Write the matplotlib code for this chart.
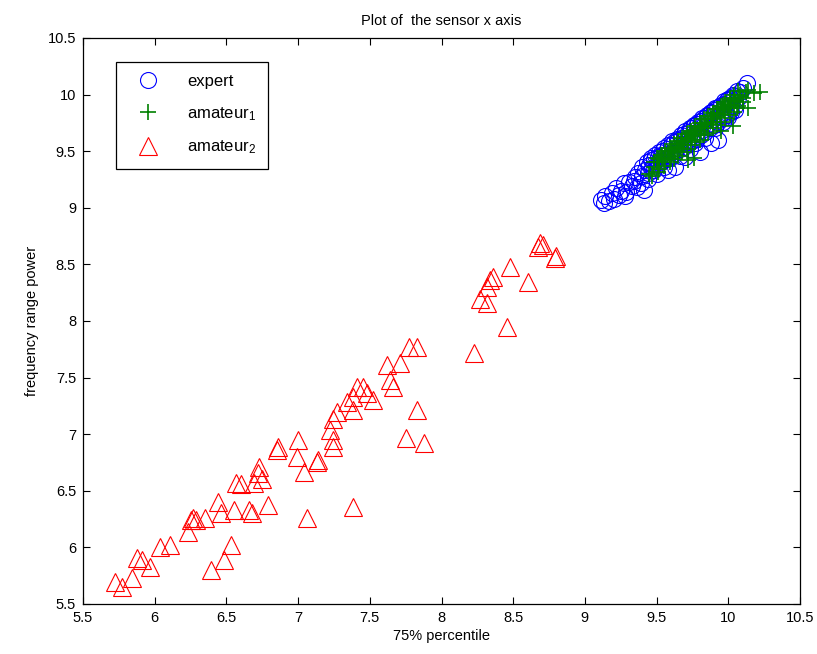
import matplotlib
matplotlib.use("Agg")
import matplotlib.pyplot as plt
from matplotlib.ticker import FormatStrFormatter, MultipleLocator

plt.rcParams['font.family'] = ['Liberation Sans', 'DejaVu Sans']
plt.rcParams['mathtext.fontset'] = 'custom'
plt.rcParams['mathtext.rm'] = 'Liberation Sans'
plt.rcParams['mathtext.it'] = 'Liberation Sans'

# expert recordings (75% percentile, frequency range power)
expert_x = [9.11, 9.14, 9.17, 9.19, 9.22, 9.24, 9.27, 9.28, 9.31, 9.33,
            9.35, 9.37, 9.39, 9.41, 9.42, 9.44, 9.45, 9.46, 9.47, 9.48,
            9.50, 9.51, 9.52, 9.53, 9.54, 9.55, 9.56, 9.57, 9.58, 9.59,
            9.60, 9.61, 9.62, 9.63, 9.64, 9.65, 9.66, 9.67, 9.68, 9.69,
            9.70, 9.71, 9.72, 9.73, 9.74, 9.75, 9.76, 9.77, 9.78, 9.79,
            9.80, 9.81, 9.82, 9.83, 9.84, 9.85, 9.86, 9.87, 9.88, 9.89,
            9.90, 9.91, 9.92, 9.93, 9.94, 9.95, 9.96, 9.97, 9.98, 9.99,
            10.00, 10.01, 10.02, 10.04, 10.05, 10.07, 10.08, 10.10, 10.13,
            9.40, 9.43, 9.46, 9.49, 9.52, 9.55, 9.58, 9.61, 9.64, 9.67,
            9.70, 9.73, 9.76, 9.79, 9.82, 9.85, 9.88, 9.91, 9.94, 9.97,
            10.00, 10.03, 10.06,
            9.44, 9.48, 9.51, 9.54, 9.57, 9.60, 9.63, 9.66, 9.69, 9.72,
            9.75, 9.78, 9.81, 9.84, 9.87, 9.90, 9.93, 9.96, 9.99, 10.02,
            10.05,
            9.13, 9.20, 9.25, 9.29, 9.34, 9.36, 9.40]
expert_y = [9.07, 9.10, 9.06, 9.13, 9.17, 9.11, 9.22, 9.10, 9.23, 9.19,
            9.27, 9.31, 9.22, 9.16, 9.33, 9.25, 9.38, 9.42, 9.35, 9.43,
            9.30, 9.45, 9.40, 9.47, 9.50, 9.36, 9.47, 9.52, 9.33, 9.44,
            9.55, 9.49, 9.58, 9.36, 9.53, 9.60, 9.46, 9.62, 9.56, 9.65,
            9.45, 9.59, 9.67, 9.52, 9.70, 9.63, 9.72, 9.57, 9.74, 9.68,
            9.49, 9.77, 9.71, 9.79, 9.62, 9.81, 9.74, 9.84, 9.57, 9.78,
            9.86, 9.70, 9.88, 9.60, 9.82, 9.91, 9.76, 9.92, 9.85, 9.95,
            9.80, 9.97, 9.90, 9.99, 9.86, 9.97, 10.02, 10.06, 10.10,
            9.36, 9.40, 9.44, 9.47, 9.49, 9.53, 9.55, 9.59, 9.61, 9.64,
            9.68, 9.70, 9.73, 9.76, 9.79, 9.82, 9.85, 9.88, 9.90, 9.94,
            9.96, 10.00, 10.03,
            9.31, 9.33, 9.38, 9.41, 9.43, 9.46, 9.48, 9.52, 9.54, 9.56,
            9.59, 9.61, 9.64, 9.67, 9.70, 9.73, 9.76, 9.79, 9.82, 9.85,
            9.90,
            9.04, 9.08, 9.15, 9.14, 9.24, 9.18, 9.28]

# first amateur
amateur1_x = [9.45, 9.48, 9.50, 9.52, 9.54, 9.56, 9.58, 9.60, 9.61, 9.63,
              9.64, 9.66, 9.67, 9.69, 9.70, 9.72, 9.72, 9.73, 9.75, 9.76,
              9.77, 9.78, 9.80, 9.81, 9.82, 9.84, 9.85, 9.86, 9.88, 9.89,
              9.90, 9.92, 9.93, 9.94, 9.95, 9.96, 9.97, 9.98, 10.00, 10.01,
              10.02, 10.03, 10.04, 10.05, 10.06, 10.08, 10.10, 10.12, 10.14,
              10.14, 10.18, 10.22,
              9.50, 9.53, 9.56, 9.59, 9.62, 9.65, 9.68, 9.71, 9.74, 9.77,
              9.80, 9.83, 9.86, 9.89, 9.92, 9.95, 9.98, 10.01, 10.04, 10.07,
              9.47, 9.51, 9.55, 9.59, 9.62, 9.65, 9.68, 9.71, 9.74, 9.77,
              9.80, 9.83, 9.86, 9.89, 9.92, 9.95, 9.98, 10.01, 10.04, 10.07,
              10.10,
              9.48, 9.52, 9.56, 9.60, 9.64, 9.68, 9.72, 9.76, 9.80, 9.84,
              9.88, 9.92, 9.96, 10.00, 10.04, 10.08]
amateur1_y = [9.30, 9.36, 9.40, 9.34, 9.45, 9.42, 9.48, 9.44, 9.52, 9.50,
              9.56, 9.53, 9.59, 9.55, 9.62, 9.42, 9.60, 9.66, 9.63, 9.44,
              9.69, 9.65, 9.72, 9.68, 9.75, 9.70, 9.78, 9.74, 9.81, 9.76,
              9.84, 9.80, 9.87, 9.83, 9.68, 9.89, 9.86, 9.92, 9.88, 9.95,
              9.91, 9.72, 9.97, 9.94, 9.88, 10.00, 9.97, 10.02, 10.04,
              9.88, 10.01, 10.02,
              9.44, 9.47, 9.50, 9.53, 9.56, 9.59, 9.62, 9.65, 9.68, 9.72,
              9.75, 9.78, 9.81, 9.84, 9.87, 9.90, 9.93, 9.97, 10.00, 10.03,
              9.28, 9.32, 9.37, 9.40, 9.43, 9.46, 9.49, 9.52, 9.55, 9.58,
              9.60, 9.64, 9.66, 9.70, 9.73, 9.76, 9.79, 9.82, 9.85, 9.90,
              9.93,
              9.40, 9.43, 9.47, 9.50, 9.54, 9.58, 9.62, 9.66, 9.70, 9.74,
              9.78, 9.83, 9.87, 9.91, 9.95, 9.98]

# second amateur
amateur2_x = [5.72, 5.77, 5.84, 5.88, 5.91, 5.97, 6.04, 6.11, 6.23, 6.25,
              6.27, 6.29, 6.35, 6.39, 6.44, 6.46, 6.48, 6.53, 6.55, 6.57,
              6.60, 6.66, 6.68, 6.69, 6.72, 6.73, 6.75, 6.79, 6.85, 6.86,
              6.99, 7.00, 7.04, 7.06, 7.13, 7.14, 7.22, 7.24, 7.24, 7.24,
              7.27, 7.34, 7.38, 7.38, 7.38, 7.41, 7.45, 7.48, 7.52, 7.62,
              7.64, 7.66, 7.71, 7.75, 7.77, 7.83, 7.83, 7.88, 8.23, 8.27,
              8.32, 8.32, 8.34, 8.36, 8.46, 8.48, 8.60, 8.67, 8.69, 8.71,
              8.79, 8.80]
amateur2_y = [5.69, 5.65, 5.73, 5.91, 5.89, 5.83, 6.00, 6.02, 6.14, 6.24,
              6.26, 6.24, 6.26, 5.80, 6.40, 6.30, 5.89, 6.02, 6.33, 6.57,
              6.56, 6.33, 6.30, 6.57, 6.66, 6.71, 6.60, 6.37, 6.86, 6.89,
              6.80, 6.95, 6.67, 6.26, 6.75, 6.77, 7.04, 6.89, 6.95, 7.13,
              7.20, 7.28, 7.21, 7.33, 6.36, 7.42, 7.42, 7.36, 7.30, 7.61,
              7.48, 7.42, 7.63, 6.97, 7.77, 7.77, 7.21, 6.92, 7.72, 8.19,
              8.16, 8.30, 8.36, 8.39, 7.95, 8.48, 8.34, 8.65, 8.69, 8.67,
              8.56, 8.57]

fig = plt.figure(figsize=(8.17, 6.54), dpi=100)
ax = fig.add_axes([0.1016, 0.0765, 0.8776, 0.8655])

ax.plot(expert_x, expert_y, 'o', mfc='none', mec=(0, 0, 1), ms=11.5,
        mew=0.8, label='expert')
ax.plot(amateur1_x, amateur1_y, '+', color=(0, 0.5, 0), ms=11,
        mew=1.2, label='amateur$_1$')
ax.plot(amateur2_x, amateur2_y, '^', mfc='none', mec=(1, 0, 0), ms=13,
        mew=0.8, label='amateur$_2$')

ax.set_xlim(5.5, 10.5)
ax.set_ylim(5.5, 10.5)
ax.xaxis.set_major_locator(MultipleLocator(0.5))
ax.yaxis.set_major_locator(MultipleLocator(0.5))
ax.xaxis.set_major_formatter(FormatStrFormatter('%g'))
ax.yaxis.set_major_formatter(FormatStrFormatter('%g'))
ax.tick_params(direction='in', length=5, width=0.8, top=True, right=True,
               labelsize=10.5, pad=5)
for sp in ax.spines.values():
    sp.set_linewidth(0.9)

ax.set_title('Plot of  the sensor x axis', fontsize=10.5, pad=9)
ax.set_xlabel('75% percentile', fontsize=10.5, labelpad=3)
ax.set_ylabel('frequency range power', fontsize=10.5, labelpad=6)

leg = ax.legend(loc='upper left', bbox_to_anchor=(0.046, 0.958),
                fancybox=False, framealpha=1, edgecolor='black',
                fontsize=12, handlelength=2.3, handletextpad=1.2,
                borderpad=0.75, labelspacing=0.95, borderaxespad=0)
leg.get_frame().set_linewidth(0.9)

fig.savefig('out.png', dpi=100)
